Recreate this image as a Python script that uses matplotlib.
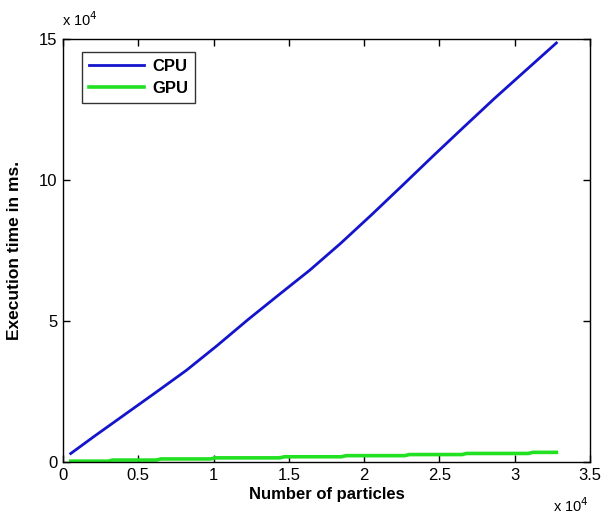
import numpy as np
import matplotlib
matplotlib.use('Agg')
from matplotlib import pyplot as plt
from matplotlib.ticker import FixedLocator, FuncFormatter

plt.rcParams['font.family'] = ['Liberation Sans Narrow', 'Liberation Sans', 'DejaVu Sans']

# Values (execution time in ms vs number of particles)
cpu_x = [512, 2048, 4096, 6144, 8192, 10240, 12288, 14336, 16384, 18432,
         20480, 22528, 24576, 26624, 28672, 30720, 32768]
cpu_y = [3000, 9000, 16800, 24600, 32500, 41300, 50500, 59300, 68000, 77500,
         87600, 98000, 108500, 118800, 129000, 138800, 148600]

gpu_x = [512, 3000, 3300, 6200, 6500, 9800, 10100, 14400, 14700, 18500,
         18800, 22700, 23000, 26500, 26800, 30900, 31200, 32768]
gpu_y = [300, 300, 690, 690, 1080, 1080, 1470, 1470, 1860, 1860,
         2250, 2250, 2640, 2640, 3030, 3030, 3420, 3420]

x_ticks = [0, 5000, 10000, 15000, 20000, 25000, 30000, 35000]
y_ticks = [0, 50000, 100000, 150000]

fig = plt.figure(figsize=(6.03, 5.18), dpi=100)
ax = fig.add_axes([63/603, 1 - 462/518, 527/603, 423/518])

ax.plot(cpu_x, cpu_y, color='#1414cc', lw=2.0, label='CPU')
ax.plot(gpu_x, gpu_y, color='#22e022', lw=2.6, label='GPU')

ax.set_xlim(0, 35000)
ax.set_ylim(0, 150000)
ax.xaxis.set_major_locator(FixedLocator(x_ticks))
ax.yaxis.set_major_locator(FixedLocator(y_ticks))
ax.xaxis.set_major_formatter(FuncFormatter(lambda v, p: '%g' % (v / 1e4)))
ax.yaxis.set_major_formatter(FuncFormatter(lambda v, p: '%g' % (v / 1e4)))
ax.tick_params(direction='in', length=5, width=1, top=True, right=True,
               labelsize=12, pad=4)
for s in ax.spines.values():
    s.set_linewidth(1.0)

ax.set_xlabel('Number of particles', fontsize=12, fontweight='bold', labelpad=3)
ax.set_ylabel('Execution time in ms.', fontsize=12.5, fontweight='bold', labelpad=12)

# MATLAB style exponent labels
fig.text(62/603, 1 - 20/518, r'x 10$^{4}$', fontsize=10.5, va='center', ha='left')
fig.text(553/603, 1 - 506/518, r'x 10$^{4}$', fontsize=10.5, va='center', ha='left')

leg = ax.legend(loc='upper left', bbox_to_anchor=(19/527, 1 - 13/423),
                prop={'weight': 'bold', 'size': 12},
                frameon=True, fancybox=False, edgecolor='black',
                handlelength=3.3, borderpad=0.4, labelspacing=0.45,
                handletextpad=0.5, borderaxespad=0)
leg.get_frame().set_linewidth(1.0)

plt.savefig('out.png', dpi=100)
